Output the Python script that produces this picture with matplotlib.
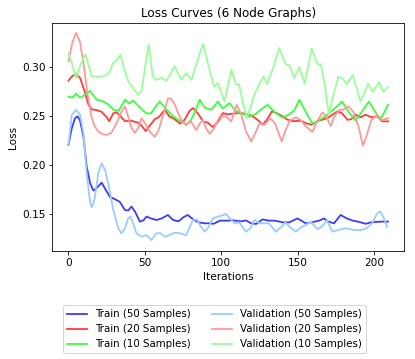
import matplotlib
matplotlib.use("Agg")
from matplotlib import pyplot as plt

# values (iteration, loss)
train50_x = [0, 2.2, 4.3, 5.9, 7.5, 9.8, 11.9, 14.1, 16.3, 18.5, 21.7, 24, 27.1, 30.4, 33.5, 36.9, 39, 41.2, 43.5,
             46.7, 49, 51, 54, 57.5, 61, 65, 68.4, 72, 75, 78, 81.5, 85, 89, 92.3, 95, 99, 103, 108, 113, 116, 119.4,
             122.7, 127, 131, 135, 140, 144.4, 149.8, 155.2, 159, 163.9, 167.2, 169.5, 173.7, 178, 182, 186, 190,
             194.3, 198, 204, 209]
train50_y = [0.221, 0.238, 0.248, 0.250, 0.246, 0.229, 0.199, 0.182, 0.1743, 0.177, 0.1825, 0.176, 0.168, 0.1655,
             0.163, 0.1546, 0.154, 0.158, 0.153, 0.1427, 0.144, 0.1478, 0.146, 0.1444, 0.146, 0.1495, 0.1444, 0.143,
             0.147, 0.1495, 0.145, 0.142, 0.141, 0.141, 0.1405, 0.1437, 0.1437, 0.144, 0.143, 0.144, 0.141, 0.1403,
             0.145, 0.1437, 0.1437, 0.142, 0.142, 0.146, 0.141, 0.142, 0.1437, 0.146, 0.143, 0.141, 0.1495, 0.146,
             0.1437, 0.1425, 0.1405, 0.142, 0.1427, 0.1427]

train20_x = [0, 2.5, 5, 7.6, 10.9, 13, 15.2, 18, 21.7, 25, 26.7, 29.3, 31.5, 34, 37, 41, 45.6, 48, 50.5, 53.5, 56.4,
             59, 63, 66, 69.5, 73, 76, 79, 81.4, 84.5, 88, 91, 94.5, 98, 101, 104, 107, 110.7, 114, 118.3, 121.5,
             124.8, 127, 130, 133, 136.5, 140, 143.3, 147, 152, 155.2, 159, 163, 166, 169.4, 173, 176, 179, 182.4,
             185, 187.8, 191, 194.3, 198, 201.9, 205.2, 209]
train20_y = [0.2863, 0.291, 0.293, 0.289, 0.2737, 0.262, 0.257, 0.2565, 0.2545, 0.249, 0.245, 0.253, 0.254, 0.250,
             0.245, 0.2455, 0.2435, 0.240, 0.235, 0.241, 0.247, 0.249, 0.2566, 0.2498, 0.247, 0.2425, 0.2465, 0.255,
             0.2584, 0.2533, 0.2448, 0.2435, 0.239, 0.2448, 0.2533, 0.252, 0.2525, 0.2533, 0.253, 0.2516, 0.249,
             0.2448, 0.2414, 0.247, 0.255, 0.253, 0.250, 0.2465, 0.245, 0.2455, 0.243, 0.2414, 0.245, 0.2465, 0.2482,
             0.252, 0.255, 0.253, 0.2465, 0.247, 0.2516, 0.249, 0.2516, 0.249, 0.250, 0.2448, 0.2448]

train10_x = [0, 2.5, 5, 7.6, 10, 14, 18.4, 22.8, 26, 30, 33, 37, 39.5, 42.3, 45, 48, 51, 54, 57.5, 59.7, 64, 68.4,
             71.6, 74, 77, 80, 82.5, 85.8, 89, 93.4, 97.7, 101, 105.3, 109, 113, 118, 122, 126, 130.3, 135, 140,
             144.4, 147.7, 151, 155, 159.6, 164, 168, 172, 179, 183.5, 187.8, 192, 196.5, 200, 204, 209]
train10_y = [0.270, 0.269, 0.273, 0.269, 0.271, 0.276, 0.267, 0.265, 0.262, 0.256, 0.256, 0.267, 0.263, 0.266,
             0.262, 0.257, 0.253, 0.253, 0.261, 0.265, 0.257, 0.250, 0.2465, 0.2448, 0.2414, 0.246, 0.2533, 0.2668,
             0.259, 0.2566, 0.265, 0.258, 0.2634, 0.256, 0.253, 0.2495, 0.252, 0.257, 0.2617, 0.254, 0.2485, 0.252,
             0.256, 0.2668, 0.255, 0.2425, 0.246, 0.250, 0.255, 0.265, 0.254, 0.2455, 0.255, 0.265, 0.256, 0.2464,
             0.2617]

val50_x = [0, 2.2, 5, 7.5, 9.8, 11.9, 14.1, 15.2, 17, 19.5, 21.7, 24, 26, 29.3, 32.6, 34.7, 37, 39, 40.6, 42.5,
           44.5, 47.7, 51, 54.3, 57.5, 60, 63, 66, 69.4, 72.5, 77, 79, 81.4, 84, 86, 89, 91.5, 94.5, 97.7, 100.5,
           103.1, 105.5, 108.6, 111.5, 116.2, 119, 121.6, 125, 131, 135.7, 139, 142, 145, 148.7, 152, 155, 158.5,
           163, 166, 169, 172.6, 176, 181, 186.7, 191, 195, 198.6, 201.9, 204, 206, 208.4]
val50_y = [0.221, 0.2515, 0.2566, 0.252, 0.2328, 0.192, 0.163, 0.1573, 0.165, 0.192, 0.2022, 0.195, 0.1818, 0.1546,
           0.1359, 0.1308, 0.136, 0.1461, 0.1478, 0.140, 0.1308, 0.1274, 0.129, 0.124, 0.1308, 0.131, 0.1274, 0.129,
           0.1315, 0.131, 0.129, 0.136, 0.1444, 0.145, 0.139, 0.1325, 0.137, 0.146, 0.1478, 0.149, 0.1505, 0.146,
           0.141, 0.142, 0.1325, 0.136, 0.1444, 0.141, 0.141, 0.1325, 0.137, 0.142, 0.137, 0.1325, 0.137, 0.139,
           0.1427, 0.135, 0.138, 0.144, 0.1325, 0.134, 0.136, 0.1342, 0.134, 0.136, 0.141, 0.1512, 0.1529, 0.147,
           0.1376]

val20_x = [0, 2.5, 5, 7.5, 10, 12.5, 15, 17, 19.5, 22, 25, 28, 31.5, 34.7, 36.9, 39, 41.2, 43.4, 45.5, 47.7, 50,
           53.2, 56.4, 59, 61, 63, 65, 67, 69.5, 72, 74, 77, 80, 83.6, 86, 88, 90, 92.3, 95, 99, 103, 106.4, 110,
           113, 116, 119.5, 122, 125, 128, 132, 135, 139.5, 142, 145, 148.7, 152, 155, 159.6, 162, 166, 168.5,
           171.5, 174, 177, 180, 183.4, 186.5, 190, 192.5, 195, 198, 201.9, 205, 209]
val20_y = [0.306, 0.325, 0.335, 0.326, 0.302, 0.272, 0.250, 0.240, 0.2345, 0.232, 0.231, 0.233, 0.243, 0.255, 0.260,
           0.250, 0.238, 0.233, 0.238, 0.248, 0.243, 0.2345, 0.229, 0.236, 0.247, 0.2566, 0.268, 0.268, 0.262,
           0.252, 0.246, 0.241, 0.245, 0.236, 0.243, 0.246, 0.238, 0.232, 0.237, 0.250, 0.250, 0.2447, 0.2617,
           0.252, 0.235, 0.2243, 0.232, 0.243, 0.241, 0.248, 0.243, 0.2243, 0.236, 0.246, 0.249, 0.246, 0.240,
           0.234, 0.243, 0.254, 0.250, 0.240, 0.250, 0.256, 0.257, 0.260, 0.254, 0.238, 0.220, 0.230, 0.246,
           0.2515, 0.246, 0.248]

val10_x = [0, 2, 5, 8, 11, 13, 15, 20, 25, 27, 29, 31, 34, 36, 39, 42, 45.6, 48, 50, 52.5, 55, 57, 60.8, 64, 69.4,
           73.8, 77, 80.4, 84, 88, 91, 94.5, 95.5, 97.7, 102, 106.6, 109.6, 111.5, 114, 116.7, 121.6, 127.5, 130,
           134, 137.8, 142, 144.5, 147.6, 151, 154.5, 159.1, 162.8, 165, 167.2, 170.4, 173, 176.5, 179, 182, 186,
           191, 196, 199, 203.2, 206, 209]
val10_y = [0.314, 0.305, 0.289, 0.303, 0.313, 0.303, 0.291, 0.290, 0.292, 0.295, 0.304, 0.306, 0.313, 0.300, 0.286,
           0.279, 0.272, 0.276, 0.300, 0.323, 0.292, 0.287, 0.289, 0.286, 0.301, 0.287, 0.294, 0.287, 0.305,
           0.3237, 0.305, 0.284, 0.280, 0.284, 0.265, 0.2975, 0.282, 0.283, 0.264, 0.248, 0.272, 0.2907, 0.283,
           0.300, 0.3196, 0.303, 0.302, 0.289, 0.300, 0.283, 0.319, 0.303, 0.303, 0.2856, 0.251, 0.270, 0.290,
           0.289, 0.283, 0.292, 0.265, 0.283, 0.275, 0.285, 0.275, 0.280]

fig = plt.figure(figsize=(415 / 72, 359 / 72), dpi=72)
ax = fig.add_axes([52.5 / 415, (359 - 251) / 359, (404 - 52.5) / 415, (251 - 23) / 359])

lw = 1.8
ax.plot(train50_x, train50_y, color="#3b3bff", lw=lw, label="Train (50 Samples)")
ax.plot(train20_x, train20_y, color="#ff3b3b", lw=lw, label="Train (20 Samples)")
ax.plot(train10_x, train10_y, color="#3bff3b", lw=lw, label="Train (10 Samples)")
ax.plot(val50_x, val50_y, color="#99ccff", lw=lw, label="Validation (50 Samples)")
ax.plot(val20_x, val20_y, color="#ff9999", lw=lw, label="Validation (20 Samples)")
ax.plot(val10_x, val10_y, color="#99ff99", lw=lw, label="Validation (10 Samples)")

ax.set_xlim(-10.45, 219.45)
ax.set_ylim(0.1128, 0.345)
ax.set_xticks([0, 50, 100, 150, 200])
ax.set_yticks([0.15, 0.20, 0.25, 0.30])
ax.set_yticklabels(["0.15", "0.20", "0.25", "0.30"])
ax.tick_params(labelsize=10.5)
ax.set_title("Loss Curves (6 Node Graphs)", fontsize=12)
ax.set_xlabel("Iterations", fontsize=10.5)
ax.set_ylabel("Loss", fontsize=10.5)

fig.legend(loc="upper center", bbox_to_anchor=(214.5 / 415, (359 - 300) / 359), ncol=2, fontsize=10.2,
           handlelength=2.0, columnspacing=2.0)

fig.savefig("out.png", dpi=72)
